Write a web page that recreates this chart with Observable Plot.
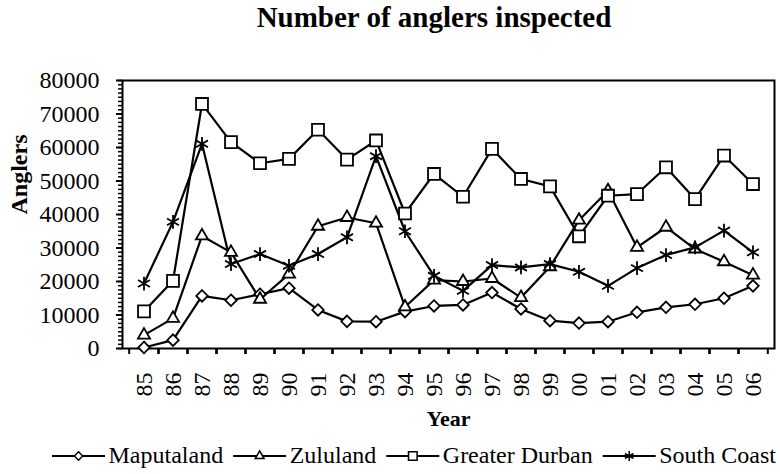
<!DOCTYPE html>
<html><head><meta charset="utf-8">
<script src="https://cdn.jsdelivr.net/npm/d3@7"></script>
<script src="https://cdn.jsdelivr.net/npm/@observablehq/plot@0.6"></script>
<style>
body{margin:0;background:#fff;}
#wrap{position:relative;width:780px;height:474px;font-family:"Liberation Serif","Times New Roman",serif;color:#000;}
#title{position:absolute;left:0;width:868px;top:3px;text-align:center;font-weight:bold;font-size:29px;line-height:29px;}
#chart{position:absolute;left:0;top:0;}
#legend{position:absolute;left:0;top:430px;}
</style></head><body>
<div id="wrap"><div id="chart"></div><div id="title">Number of anglers inspected</div><svg id="legend" width="780" height="44"></svg></div>
<script>
const years = ["85","86","87","88","89","90","91","92","93","94","95","96","97","98","99","00","01","02","03","04","05","06"];
const seriesNames = ["Maputaland","Zululand","Greater Durban","South Coast"];
const maputaland   = [300,2500,15700,14400,16200,18000,11500,8100,8000,11000,12700,13000,16700,11800,8300,7600,8000,10800,12300,13200,15000,18700];
const zululand     = [4000,9000,33600,28700,14700,22200,36500,39100,37400,12400,20400,20000,20900,15200,24400,38300,47100,30200,36200,29700,25900,21900];
const greaterDurban= [11100,20200,73000,61600,55300,56600,65300,56400,62100,40300,52100,45300,59600,50600,48400,33500,45600,46100,54100,44600,57600,49100];
const southCoast   = [19400,37800,61100,25200,28200,24700,28200,33200,57400,35000,21700,17200,24900,24200,25200,22900,18700,24000,27900,30200,35200,28700];
const yTicks = [0,10000,20000,30000,40000,50000,60000,70000,80000];

const seriesValues = [maputaland, zululand, greaterDurban, southCoast];
const rows = [];
seriesNames.forEach((name, s) => seriesValues[s].forEach((v, i) => rows.push({year: years[i], value: v, series: name})));

const symbolOf = {"Maputaland": d3.symbolDiamond2, "Zululand": d3.symbolTriangle2, "Greater Durban": d3.symbolSquare2, "South Coast": d3.symbolAsterisk};
const rOf = {"Maputaland": 5.2, "Zululand": 5.8, "Greater Durban": 7.6, "South Coast": 6.5};

const W = 780, H = 474, mL = 122, mR = 6, mT = 80, mB = 126;
const bw = (W - mL - mR) / years.length;
const minorTicks = d3.range(0, 80001, 1250);
const serif = "'Liberation Serif','Times New Roman',serif";

const plot = Plot.plot({
  width: W, height: H,
  marginTop: mT, marginBottom: mB, marginLeft: mL, marginRight: mR,
  style: {fontFamily: serif, fontSize: "24px", color: "black", background: "transparent", overflow: "visible"},
  x: {type: "band", domain: years, padding: 0, label: null},
  y: {domain: [0, 80000], label: null},
  marks: [
    Plot.axisY(minorTicks, {tickSize: 4, tickFormat: () => "", strokeWidth: 1.5, label: null}),
    Plot.axisY(yTicks, {tickSize: 6, tickPadding: 17, tickFormat: d => String(d), strokeWidth: 2, label: null}),
    Plot.axisX(years, {tickSize: 0, tickPadding: 24, tickRotate: -90, label: null}),
    Plot.axisX(years, {tickSize: 6, dx: -bw / 2, tickFormat: () => "", strokeWidth: 2, label: null}),
    Plot.axisX(years, {tickSize: 6, dx: bw / 2, tickFormat: () => "", strokeWidth: 2, label: null}),
    Plot.frame({stroke: "black", strokeWidth: 2}),
    Plot.line(rows, {x: "year", y: "value", z: "series", stroke: "black", strokeWidth: 2.2}),
    ...seriesNames.map(n => Plot.dot(rows.filter(d => d.series === n), {
      x: "year", y: "value", symbol: symbolOf[n], r: rOf[n], stroke: "black", fill: "white", strokeWidth: 1.8
    })),
    Plot.text(["Anglers"], {frameAnchor: "left", dx: -103, rotate: -90, fontWeight: "bold", fontSize: 24}),
    Plot.text(["Year"], {frameAnchor: "bottom", dy: 77, fontWeight: "bold", fontSize: 22})
  ]
});
document.getElementById("chart").appendChild(plot);

// legend
const leg = d3.select("#legend");
let lx = 52;
const lineLen = 53, ly = 26;
seriesNames.forEach(n => {
  const g = leg.append("g");
  g.append("line").attr("x1", lx).attr("x2", lx + lineLen).attr("y1", ly).attr("y2", ly)
    .attr("stroke", "black").attr("stroke-width", 2);
  const r = rOf[n] * 0.72;
  g.append("path").attr("transform", `translate(${lx + lineLen / 2},${ly})`)
    .attr("d", d3.symbol(symbolOf[n], r * r * Math.PI)())
    .attr("fill", "white").attr("stroke", "black").attr("stroke-width", 1.5);
  const t = g.append("text").attr("x", lx + lineLen + 3.5).attr("y", 33)
    .attr("font-family", serif).attr("font-size", 24).text(n);
  lx = lx + lineLen + 3.5 + t.node().getComputedTextLength() + 10;
});
</script>
</body></html>
